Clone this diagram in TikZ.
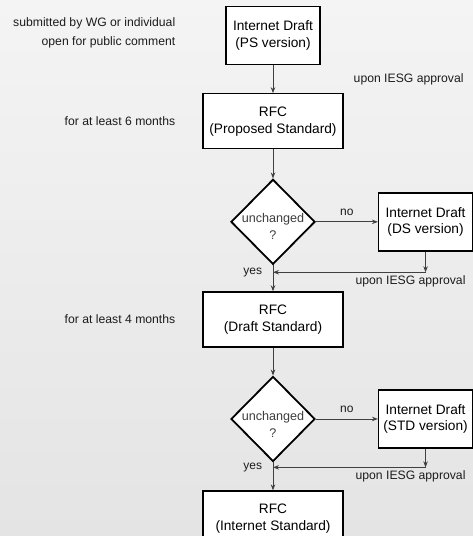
\documentclass[tikz,border=0pt]{standalone}
\usepackage{fontspec}
\setmainfont{Liberation Sans}
\usetikzlibrary{arrows.meta,positioning,shapes.geometric,calc}
\definecolor{bgtop}{HTML}{F4F4F4}
\definecolor{bgbot}{HTML}{E4E4E4}
\definecolor{linegray}{HTML}{404040}
\definecolor{ink}{HTML}{1C1C1C}

\begin{document}
\begin{tikzpicture}[x=1pt,y=1pt,
node distance=28pt and 62pt,
rfcbox/.style={draw,line width=1.3pt,fill=white,align=center,minimum width=140pt,
minimum height=55pt,font=\fontsize{13.7}{16.7}\selectfont},
draftbox/.style={draw,line width=1.3pt,fill=white,align=center,minimum width=94pt,
minimum height=58pt,font=\fontsize{13.7}{16.7}\selectfont},
check/.style={draw,diamond,line width=1.8pt,fill=white,inner sep=0pt,
minimum width=84pt,minimum height=85pt},
qtext/.style={align=center,inner sep=0pt,yshift=-5pt,text=ink!85,
font=\fontsize{12.6}{17}\selectfont},
note/.style={text=ink,align=right,font=\fontsize{12.2}{15}\selectfont},
lab/.style={text=ink,font=\fontsize{12}{14}\selectfont},
arr/.style={-{Stealth[length=6pt,width=4.5pt]},line width=0.8pt,draw=linegray}
]
\fill[top color=bgtop,bottom color=bgbot] (0,0) rectangle (473,-536);
\useasboundingbox (0,0) rectangle (473,-536);

% main column
\node[draftbox] (ps) at (273,-35.5) {Internet Draft\\(PS version)};
\node[rfcbox,below=of ps] (ps_rfc) {RFC\\(Proposed Standard)};
\node[check,below=29pt of ps_rfc,label={[qtext]center:{unchanged\\?}}] (chk1) {};
\node[draftbox,right=of chk1] (ds) {Internet Draft\\(DS version)};
\coordinate[below=7pt of chk1] (j1);
\coordinate (c1) at (ds |- j1);
\node[rfcbox,below=26pt of chk1] (ds_rfc) {RFC\\(Draft Standard)};
\node[check,below=of ds_rfc,label={[qtext]center:{unchanged\\?}}] (chk2) {};
\node[draftbox,right=of chk2] (std) {Internet Draft\\(STD version)};
\coordinate[below=5pt of chk2] (j2);
\coordinate (c2) at (std |- j2);
\node[rfcbox,below=of chk2] (is_rfc) {RFC\\(Internet Standard)};

% notes on the left
\coordinate (lm) at (178.8,0);
\node[note,anchor=east,yshift=3pt] (sub) at (lm |- ps)
{submitted by WG or individual\\[4pt]open for public comment};
\node[note,anchor=east] (ps_time) at (lm |- ps_rfc) {for at least 6 months};
\node[note,anchor=east] (ds_time) at (lm |- ds_rfc) {for at least 4 months};

% connectors
\draw[arr] (ps) -- (ps_rfc) node[midway,right=77pt,note] (ap0) {upon IESG approval};
\draw[arr] (ps_rfc) -- (chk1);
\draw[arr] (chk1) -- node[lab,above=3pt] (no1) {no} (ds);
\draw[arr] (ds) -- (c1);
\draw[arr] (c1) -- (j1);
\node[lab,left=7.4pt of j1] (yes1) {yes};
\node[note,below=0pt of c1,xshift=-15pt] (ap1) {upon IESG approval};
\draw[arr] (chk1) -- (ds_rfc);

\draw[arr] (ds_rfc) -- (chk2);
\draw[arr] (chk2) -- node[lab,above=3pt] (no2) {no} (std);
\draw[arr] (std) -- (c2);
\draw[arr] (c2) -- (j2);
\node[lab,left=7.4pt of j2] (yes2) {yes};
\node[note,below=0pt of c2,xshift=-15pt] (ap2) {upon IESG approval};
\draw[arr] (chk2) -- (is_rfc);
\end{tikzpicture}
\end{document}
